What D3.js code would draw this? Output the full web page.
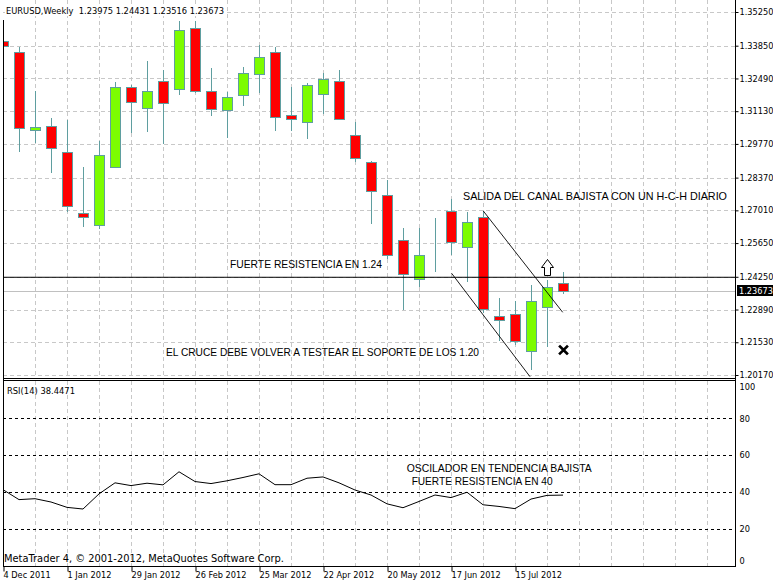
<!DOCTYPE html>
<html>
<head>
<meta charset="utf-8">
<script src="https://cdn.jsdelivr.net/npm/d3@7"></script>
<style>
  html, body { margin: 0; padding: 0; background: #fff; }
  svg { display: block; }
</style>
</head>
<body>
<script>
// weekly EURUSD candles, 4 Dec 2011 .. 5 Aug 2012
const opens  = [1.34045,1.33601,1.30335,1.30526,1.29445,1.26911,1.26400,1.28810,1.32146,1.31249,1.32371,1.32038,1.34573,1.31955,1.31178,1.31789,1.32661,1.33601,1.30983,1.30667,1.31830,1.32371,1.30127,1.29005,1.27646,1.25764,1.24144,1.26358,1.26969,1.25473,1.26745,1.22619,1.22689,1.21177,1.22980,1.23975];
const highs  = [1.34918,1.33783,1.31968,1.30846,1.30763,1.28810,1.29903,1.32341,1.32200,1.33214,1.32840,1.34876,1.34876,1.32923,1.31926,1.32952,1.33879,1.33808,1.32146,1.32287,1.32703,1.32840,1.30680,1.29072,1.28270,1.26275,1.26275,1.26678,1.27468,1.26940,1.26982,1.23379,1.23242,1.23907,1.24115,1.24431];
const lows   = [1.32840,1.29445,1.29795,1.28573,1.26952,1.26304,1.26246,1.28780,1.30235,1.30276,1.29753,1.31814,1.31872,1.30941,1.30027,1.31357,1.31885,1.30318,1.30318,1.29961,1.31024,1.30792,1.29030,1.26429,1.24975,1.22868,1.23836,1.24435,1.25141,1.24044,1.22731,1.21593,1.21414,1.20375,1.21318,1.23516];
const closes = [1.33838,1.30418,1.30459,1.29599,1.27189,1.26732,1.29296,1.32146,1.31510,1.31955,1.31457,1.34490,1.31968,1.31220,1.31731,1.32703,1.33393,1.30875,1.30792,1.32204,1.32454,1.30817,1.29184,1.27800,1.25153,1.24351,1.25141,1.26362,1.25693,1.26512,1.22910,1.22453,1.21593,1.23230,1.23836,1.23673];
const rsi    = [41.4,36.0,36.5,34.7,31.8,30.9,39.1,45.1,43.6,44.9,44.0,51.1,45.8,44.7,46.2,48.0,50.0,44.1,44.1,47.6,48.3,45.1,41.2,38.5,33.7,31.6,35.0,38.5,37.1,40.0,33.2,32.3,31.1,36.3,38.3,38.4471];

const priceTicks = [1.35250,1.33850,1.32490,1.31130,1.29770,1.28370,1.27010,1.25650,1.24250,1.22890,1.21530,1.20170];
const rsiTicks = [100, 80, 60, 40, 20, 0];
const rsiLevels = [80, 60, 40, 20];
const dateTicks = [0, 4, 8, 12, 16, 20, 24, 28, 32];
const dateLabels = ["4 Dec 2011","1 Jan 2012","29 Jan 2012","26 Feb 2012","25 Mar 2012","22 Apr 2012","20 May 2012","17 Jun 2012","15 Jul 2012"];
const title = "EURUSD,Weekly  1.23975 1.24431 1.23516 1.23673";
const lastPrice = 1.23673;
const rsiTitle = "RSI(14) 38.4471";

// drawn objects, in bar index / price
const resistance = 1.2423;
const channel = [
  [[30.02, 1.26982], [34.98, 1.22775]],
  [[28.04, 1.24394], [32.94, 1.20098]]
];
const notes = [
  {text: "SALIDA DEL CANAL BAJISTA CON UN H-C-H DIARIO", i: 28.75, p: 1.27439, len: 264},
  {text: "FUERTE RESISTENCIA EN 1.24", i: 14.19, p: 1.24614, len: 152},
  {text: "EL CRUCE DEBE VOLVER A TESTEAR EL SOPORTE DE LOS 1.20", i: 10.19, p: 1.20958, len: 313}
];
const rsiNotes = [
  {text: "OSCILADOR EN TENDENCIA BAJISTA", i: 25.23, v: 51.2, len: 185},
  {text: "FUERTE RESISTENCIA EN 40", i: 25.54, v: 44.1, len: 141}
];
const arrowAt = {i: 34, p: 1.2499};
const crossAt = {i: 35, p: 1.2121};

const W = 773, H = 584;
const left = 3, right = 735, mainBottom = 378, rsiTop = 381, rsiBottom = 566;
const SMALL = "Tahoma, 'DejaVu Sans', sans-serif";
const NOTE = "'Liberation Sans', Arial, sans-serif";
const BULL = "#7cfc00", BEAR = "#ff0000", EDGE = "#5f9ea0", GRID = "#c8c8c8";

const x = d3.scaleLinear().domain([0, 1]).range([left, left + 16]);
const y = d3.scaleLinear().domain([1.2017, 1.3525]).range([375, 12]);
const yR = d3.scaleLinear().domain([0, 100]).range([rsiBottom, 381.6]);
const crisp = v => Math.round(v) + 0.5;

const svg = d3.select("body").append("svg").attr("width", W).attr("height", H);
svg.append("rect").attr("width", W).attr("height", H).attr("fill", "#fff");

const defs = svg.append("defs");
defs.append("clipPath").attr("id", "clipMain").append("rect")
  .attr("x", left).attr("y", 0).attr("width", right - left).attr("height", mainBottom);
defs.append("clipPath").attr("id", "clipRsi").append("rect")
  .attr("x", left).attr("y", rsiTop).attr("width", right - left).attr("height", rsiBottom - rsiTop);

// vertical grid every 2 bars, both panels
const gridIdx = d3.range(2, 46, 2).filter(i => x(i) < right);
[[0, mainBottom], [rsiTop, rsiBottom]].forEach(([t, b]) => {
  svg.append("g").selectAll("line").data(gridIdx).join("line")
    .attr("x1", d => crisp(x(d))).attr("x2", d => crisp(x(d)))
    .attr("y1", t).attr("y2", b)
    .attr("stroke", GRID).attr("stroke-dasharray", "4,3");
});

// horizontal price grid
svg.append("g").selectAll("line").data(priceTicks).join("line")
  .attr("x1", left).attr("x2", right)
  .attr("y1", d => crisp(y(d))).attr("y2", d => crisp(y(d)))
  .attr("stroke", GRID).attr("stroke-dasharray", "4,3");

// last price line
svg.append("line").attr("x1", left).attr("x2", right)
  .attr("y1", crisp(y(lastPrice))).attr("y2", crisp(y(lastPrice)))
  .attr("stroke", "#c0c0c0");

// candles
const bars = d3.range(opens.length);
const gc = svg.append("g").attr("clip-path", "url(#clipMain)");
gc.selectAll("line.wick").data(bars).join("line").attr("class", "wick")
  .attr("x1", i => x(i) + 0.5).attr("x2", i => x(i) + 0.5)
  .attr("y1", i => Math.round(y(highs[i]))).attr("y2", i => Math.round(y(lows[i])))
  .attr("stroke", EDGE);
gc.selectAll("rect.body").data(bars).join("rect").attr("class", "body")
  .attr("x", i => x(i) - 4.5).attr("width", 10)
  .attr("y", i => crisp(y(Math.max(opens[i], closes[i]))))
  .attr("height", i => Math.max(0, crisp(y(Math.min(opens[i], closes[i]))) - crisp(y(Math.max(opens[i], closes[i])))))
  .attr("fill", i => closes[i] >= opens[i] ? BULL : BEAR)
  .attr("stroke", EDGE);

// resistance line and channel
const ga = svg.append("g").attr("clip-path", "url(#clipMain)");
ga.append("line").attr("x1", left).attr("x2", right)
  .attr("y1", y(resistance)).attr("y2", y(resistance)).attr("stroke", "#000");
ga.selectAll("line.chan").data(channel).join("line").attr("class", "chan")
  .attr("x1", d => x(d[0][0])).attr("y1", d => y(d[0][1]))
  .attr("x2", d => x(d[1][0])).attr("y2", d => y(d[1][1]))
  .attr("stroke", "#000").attr("stroke-width", 0.9);

ga.selectAll("text.note").data(notes).join("text").attr("class", "note")
  .attr("x", d => x(d.i)).attr("y", d => y(d.p))
  .attr("textLength", d => d.len).attr("lengthAdjust", "spacingAndGlyphs")
  .attr("font-family", NOTE).attr("font-size", "10.6px").attr("fill", "#000")
  .text(d => d.text);

ga.append("path")
  .attr("transform", `translate(${x(arrowAt.i) + 0.5},${crisp(y(arrowAt.p))})`)
  .attr("d", "M0,0L6,8H3V16H-3V8H-6Z")
  .attr("fill", "#fff").attr("stroke", "#000");
ga.append("path")
  .attr("transform", `translate(${x(crossAt.i) + 0.5},${y(crossAt.p)})`)
  .attr("d", "M-3.5,-3.5L3.5,3.5M3.5,-3.5L-3.5,3.5")
  .attr("stroke", "#000").attr("stroke-width", 2.6).attr("stroke-linecap", "square");

// header
const hdr = svg.append("text").attr("x", 6).attr("y", 14)
  .attr("font-family", SMALL).attr("font-size", "8.2px")
  .attr("textLength", 218).attr("lengthAdjust", "spacingAndGlyphs")
  .attr("xml:space", "preserve").text(title);
const hb = hdr.node().getBBox();
svg.insert("rect", () => hdr.node())
  .attr("x", hb.x - 1).attr("y", hb.y).attr("width", hb.width + 2).attr("height", hb.height)
  .attr("fill", "#fff");

// RSI panel
const gr = svg.append("g").attr("clip-path", "url(#clipRsi)");
gr.selectAll("line").data(rsiLevels).join("line")
  .attr("x1", left).attr("x2", right)
  .attr("y1", d => crisp(yR(d))).attr("y2", d => crisp(yR(d)))
  .attr("stroke", "#000").attr("stroke-dasharray", "3,3");
gr.append("path").datum(rsi)
  .attr("d", d3.line().x((d, i) => x(i)).y(d => yR(d)))
  .attr("fill", "none").attr("stroke", "#000");
gr.selectAll("text").data(rsiNotes).join("text")
  .attr("x", d => x(d.i)).attr("y", d => yR(d.v))
  .attr("textLength", d => d.len).attr("lengthAdjust", "spacingAndGlyphs")
  .attr("font-family", NOTE).attr("font-size", "10.3px")
  .text(d => d.text);

svg.append("text").attr("x", 7).attr("y", 393.5)
  .attr("font-family", SMALL).attr("font-size", "8.2px")
  .attr("textLength", 68).attr("lengthAdjust", "spacingAndGlyphs")
  .text(rsiTitle);

svg.append("text").attr("x", 4).attr("y", 561.7)
  .attr("font-family", SMALL).attr("font-size", "9.8px")
  .attr("textLength", 280).attr("lengthAdjust", "spacingAndGlyphs")
  .text("MetaTrader 4, © 2001-2012, MetaQuotes Software Corp.");

// frame
const frame = svg.append("g").attr("stroke", "#000").attr("shape-rendering", "crispEdges");
frame.append("line").attr("x1", left + 0.5).attr("x2", left + 0.5).attr("y1", 20).attr("y2", rsiBottom + 1);
frame.append("line").attr("x1", right + 0.5).attr("x2", right + 0.5).attr("y1", 0).attr("y2", rsiBottom + 1);
[mainBottom + 0.5, rsiTop - 0.5, rsiBottom + 0.5].forEach(v =>
  frame.append("line").attr("x1", left).attr("x2", right + 1).attr("y1", v).attr("y2", v));

// axes
const styleAxis = g => {
  g.select(".domain").remove();
  g.selectAll("line").attr("stroke", "#000");
  g.selectAll("text").attr("font-family", SMALL).attr("font-size", "8.2px").attr("fill", "#000");
};
svg.append("g").attr("transform", `translate(${right + 0.5},0)`)
  .call(d3.axisRight(y).tickValues(priceTicks).tickSize(3).tickPadding(1).tickFormat(d3.format(".5f")))
  .call(styleAxis);

const ra = svg.append("g").attr("transform", `translate(${right + 0.5},0)`)
  .call(d3.axisRight(yR).tickValues(rsiTicks).tickSize(0).tickPadding(4).tickFormat(d3.format("d")))
  .call(styleAxis);
ra.selectAll(".tick").filter(d => d === 100).select("text").attr("dy", "1.0em");
ra.selectAll(".tick").filter(d => d === 0).select("text").attr("dy", "-0.3em");

svg.append("g").attr("transform", `translate(0.5,${rsiBottom + 0.5})`)
  .call(d3.axisBottom(x).tickValues(dateTicks).tickSize(5).tickPadding(1).tickFormat((d, i) => dateLabels[i]))
  .call(styleAxis)
  .call(g => g.selectAll("text").attr("text-anchor", "start").attr("dx", "-0.5"));

// last price box
const ly = y(lastPrice);
svg.append("rect").attr("x", right + 2).attr("y", Math.round(ly) - 6).attr("width", 36).attr("height", 11).attr("fill", "#000");
svg.append("text").attr("x", right + 4).attr("y", ly).attr("dy", "0.35em")
  .attr("font-family", SMALL).attr("font-size", "8.2px").attr("fill", "#fff")
  .text(d3.format(".5f")(lastPrice));
</script>
</body>
</html>
